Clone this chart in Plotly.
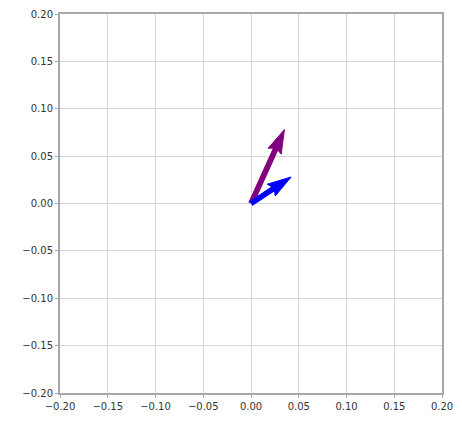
import numpy as np
import plotly.graph_objects as go

# data
vec_x = [0.035, 0.042]
vec_y = [0.078, 0.028]
vec_colors = ["#800080", "#0000ff"]
tick_vals = [-0.20, -0.15, -0.10, -0.05, 0.00, 0.05, 0.10, 0.15, 0.20]
tick_text = [("\u2212" if v < 0 else "") + f"{abs(v):.2f}" for v in tick_vals]

fig = go.Figure()

w = 0.005  # shaft width in data units
for u, v, c in zip(vec_x, vec_y, vec_colors):
    L = np.hypot(u, v)
    d = np.array([u, v]) / L
    n = np.array([-d[1], d[0]])
    pts_local = [
        (0, -0.5 * w), (L - 4.5 * w, -0.5 * w), (L - 5 * w, -1.5 * w),
        (L, 0), (L - 5 * w, 1.5 * w), (L - 4.5 * w, 0.5 * w), (0, 0.5 * w),
    ]
    xs = [a * d[0] + b * n[0] for a, b in pts_local]
    ys = [a * d[1] + b * n[1] for a, b in pts_local]
    fig.add_trace(go.Scatter(x=xs, y=ys, fill="toself", fillcolor=c,
                             mode="lines", line=dict(color=c, width=1),
                             hoverinfo="skip", showlegend=False))

axis_common = dict(
    range=[-0.2, 0.2], tickvals=tick_vals, ticktext=tick_text,
    showgrid=True, gridcolor="#d6d6d6", gridwidth=1.3,
    zeroline=False, showline=True, linecolor="#a8a8a8", linewidth=2,
    mirror=True, ticks="outside", ticklen=3, tickcolor="#a8a8a8",
    ticklabeloverflow="allow",
    tickfont=dict(family="DejaVu Sans", size=10, color="#333333"),
)
fig.update_xaxes(**axis_common)
fig.update_yaxes(**axis_common)

fig.update_layout(
    width=446, height=406,
    margin=dict(l=52, r=12, t=6, b=21, autoexpand=False),
    plot_bgcolor="white", paper_bgcolor="white",
)

fig.write_html("out.html")
